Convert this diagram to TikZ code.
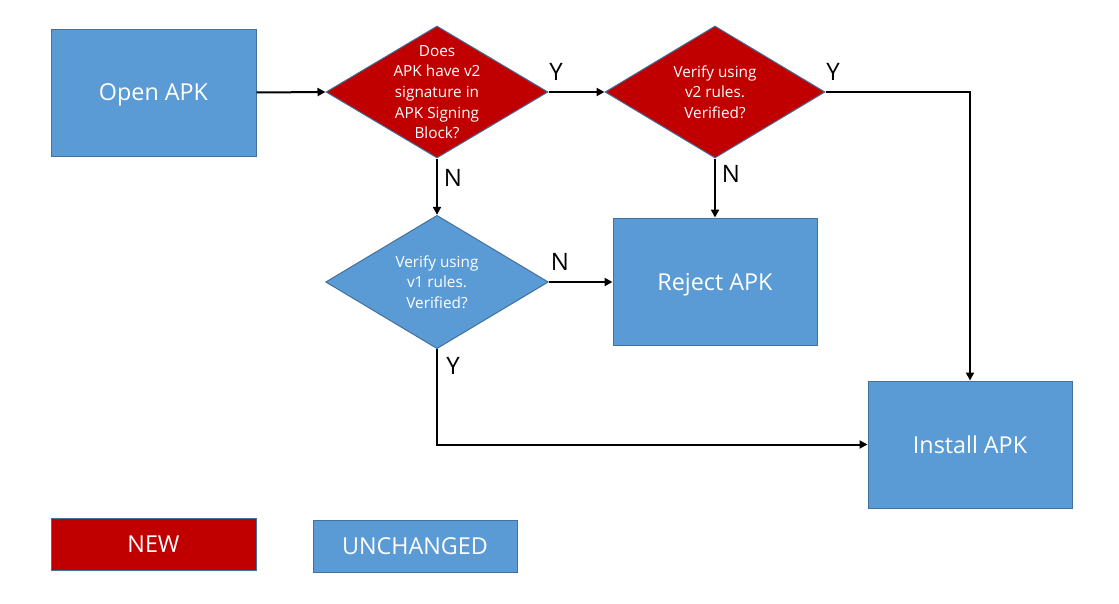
\documentclass[tikz,border=0pt]{standalone}
\usepackage{fontspec}
\setmainfont{Open Sans}
\usetikzlibrary{shapes.geometric,arrows.meta}
\definecolor{newred}{HTML}{C00000}
\definecolor{oldblue}{HTML}{5B9BD5}
\definecolor{edgeblue}{HTML}{41719C}
\begin{document}
\begin{tikzpicture}[x=0.75pt,y=-0.75pt,
  box/.style={draw=edgeblue,line width=0.75pt,text=white,font=\fontsize{17.5}{20}\selectfont,inner sep=0pt,text depth=0pt},
  dia/.style={diamond,draw=edgeblue,line width=0.75pt,inner sep=0pt},
  dtext/.style={text=white,align=center,font=\fontsize{11.5}{15.5}\selectfont},
  conn/.style={line width=1.5pt,-{Triangle[length=6pt,width=6pt]}},
  lab/.style={font=\fontsize{18}{20}\selectfont,inner sep=0pt}]
\useasboundingbox (0,0) rectangle (1119,603);
\node[box,fill=oldblue,minimum width=153.75pt,minimum height=95.25pt] (open) at (153.5,92.5) {Open APK};
\node[dia,fill=newred,minimum width=166.5pt,minimum height=99pt] (d1) at (437,92) {};
\node[dtext] at (d1) {Does\\APK have v2\\signature in\\APK Signing\\Block?};
\node[dia,fill=newred,minimum width=165pt,minimum height=99pt] (d2) at (715,92) {};
\node[dtext] at (d2) {Verify using\\v2 rules.\\Verified?};
\node[dia,fill=oldblue,minimum width=167pt,minimum height=100pt] (d3) at (437,282) {};
\node[dtext] at (d3) {Verify using\\v1 rules.\\Verified?};
\node[box,fill=oldblue,minimum width=153pt,minimum height=95.25pt] (reject) at (715,281.5) {Reject APK};
\node[box,fill=oldblue,minimum width=153pt,minimum height=95.25pt] (install) at (970,444.5) {Install APK};
\node[box,fill=newred,minimum width=153.75pt,minimum height=39pt] (new) at (153.5,544) {NEW};
\node[box,fill=oldblue,minimum width=153pt,minimum height=39pt] (unch) at (415,546) {UNCHANGED};
\draw[conn] (open.east) -- (d1.west);
\draw[conn] (d1.east) -- (d2.west);
\draw[conn] (d2.east) -| (install.north);
\draw[conn] (d1.south) -- (d3.north);
\draw[conn] (d2.south) -- (reject.north);
\draw[conn] (d3.east) -- (reject.west |- d3.east);
\draw[conn] (d3.south) |- (install.west);
\node[lab] (y1) at (556,72) {Y};
\node[lab] (y2) at (833,72) {Y};
\node[lab] (n1) at (453,178) {N};
\node[lab] (n2) at (731,174) {N};
\node[lab] (n3) at (560,262) {N};
\node[lab] (y3) at (453,366) {Y};
\end{tikzpicture}
\end{document}
